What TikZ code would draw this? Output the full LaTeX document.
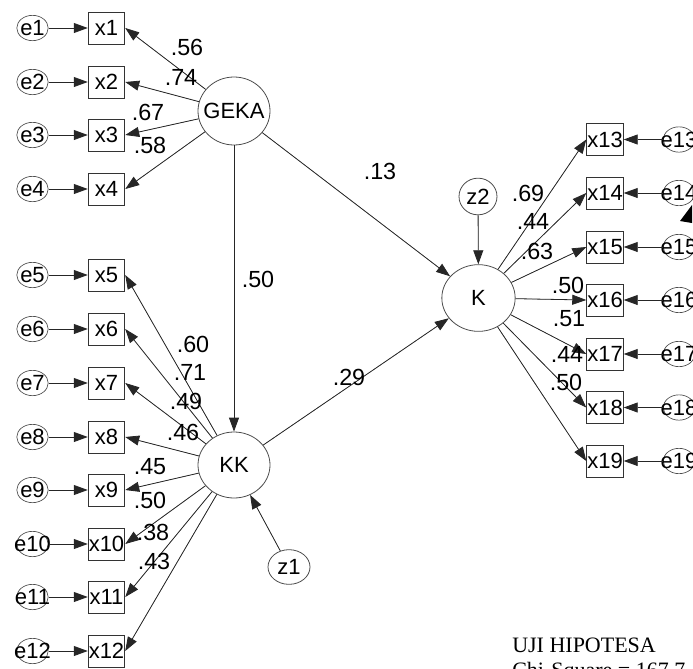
\documentclass[tikz,border=0pt]{standalone}
\usepackage{fontspec}
\setmainfont{Liberation Sans}
\newfontfamily\timesfont{Liberation Serif}
\usetikzlibrary{shapes.geometric, arrows.meta}

\begin{document}
\begin{tikzpicture}[
  x=0.75pt, y=-0.75pt,
  font=\fontsize{16.5}{20}\selectfont,
  obs/.style={rectangle, draw=black!80, line width=0.6pt, minimum width=27.5pt, minimum height=24pt, inner sep=0pt},
  err/.style={ellipse, draw=black!70, line width=0.5pt, minimum width=23.5pt, minimum height=19pt, inner sep=0pt},
  lat/.style={ellipse, draw=black!70, line width=0.6pt, inner sep=0pt},
  arrow/.style={-{Triangle[length=10.5pt, width=7.5pt]}, line width=0.6pt, draw=black!85, fill=black},
  coef/.style={inner sep=0pt, font=\fontsize{17.5}{20}\selectfont}
]
  \useasboundingbox (0,0) rectangle (693,668);
  \clip (0,0) rectangle (693,668);

  % latent variables
  \node[lat, minimum width=54pt, minimum height=51pt] (GEKA) at (234,111) {\makebox[0pt]{GEKA}};
  \node[lat, minimum width=54pt, minimum height=49.5pt] (KK) at (234,465) {KK};
  \node[lat, minimum width=55pt, minimum height=50pt] (K) at (478.5,298) {K};
  \node[lat, minimum width=31.5pt, minimum height=26pt] (z1) at (289,567) {z1};
  \node[lat, minimum width=28.5pt, minimum height=27.5pt] (z2) at (478,196.5) {z2};

  % indicators, left side
  \foreach \i/\y in {1/28, 2/82, 3/135, 4/189, 5/275, 6/329, 7/383, 8/437, 9/490, 10/544, 11/597, 12/651} {
    \node[obs] (x\i) at (106.5,\y) {\makebox[0pt]{x\i}};
    \node[err, label={center:e\i}] (e\i) at (32.5,\y) {};
    \draw[arrow] (e\i) -- (x\i);
  }
  % indicators, right side
  \foreach \i/\y in {13/139.5, 14/193, 15/247, 16/300, 17/354, 18/407.5, 19/461} {
    \node[obs] (x\i) at (605,\y) {\makebox[0pt]{x\i}};
    \node[err, label={center:e\i}] (e\i) at (679,\y) {};
    \draw[arrow] (e\i) -- (x\i);
  }

  \foreach \i in {1,...,4} \draw[arrow] (GEKA) -- (x\i.east);
  \foreach \i in {5,...,12} \draw[arrow] (KK) -- (x\i.east);
  \foreach \i in {13,...,19} \draw[arrow] (K) -- (x\i.west);

  \draw[arrow] (GEKA) -- (KK);
  \draw[arrow] (GEKA) -- (K);
  \draw[arrow] (KK) -- (K);
  \draw[arrow] (z1) -- (KK);
  \draw[arrow] (z2) -- (K);

  % estimates
  \foreach \n/\x/\y/\t in {a/187/47/.56, b/181/77/.74, c/148/112/.67, d/150/145/.58,
      e/258/279/.50, f/380/171/.13, g/349/377/.29,
      h/193/344/.60, i/190/372/.71, j/186/401/.49, k/183/432/.46,
      l/150/467/.45, m/150/500/.50, n/153/532/.38, o/154/561/.43,
      p/528/193/.69, q/533/221/.44, r/537/251/.63, s/568/285/.50,
      t/569/319/.51, u/567/354/.44, v/566/382/.50}
    \node[coef] (c\n) at (\x,\y) {\t};

  \fill[black] (692,205) -- (680,221) -- (692,223) -- cycle;

  \node[anchor=base west, inner sep=0pt, font=\timesfont\fontsize{16.5}{20}\selectfont] (title) at (512,652) {UJI HIPOTESA};
  \node[anchor=base west, inner sep=0pt, font=\timesfont\fontsize{16.5}{20}\selectfont] (chi) at (512,677) {Chi-Square = 167.7};
\end{tikzpicture}
\end{document}
